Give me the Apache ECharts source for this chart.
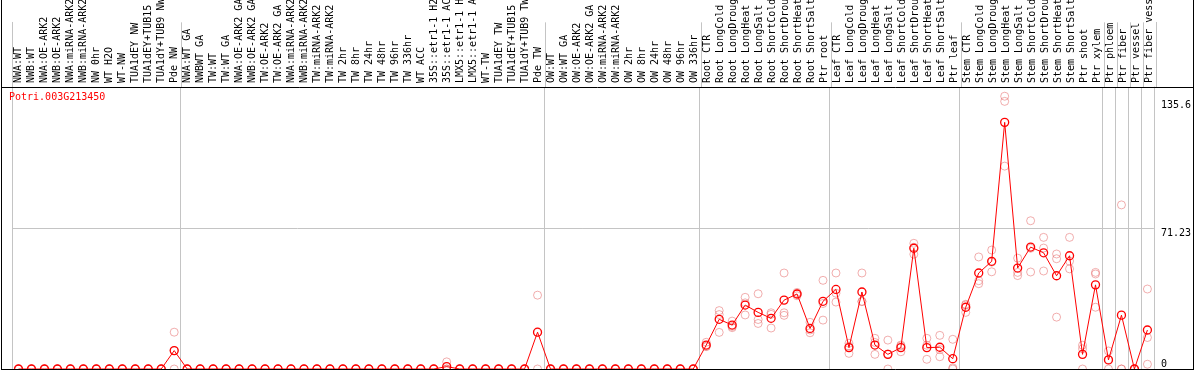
<!DOCTYPE html>
<html><head><meta charset="utf-8">
<script src="https://cdn.jsdelivr.net/npm/echarts@6/dist/echarts.min.js"></script>
<style>html,body{margin:0;padding:0;background:#fff}#c{width:1194px;height:370px}</style>
</head><body><div id="c"></div>
<script>
const chartTitle = 'Potri.003G213450';
const categories = [
 'NWA:WT','NWB:WT','NWA:OE-ARK2','NWB:OE-ARK2','NWA:miRNA-ARK2','NWB:miRNA-ARK2','NW 0hr','WT H2O','WT-NW','TUA1dEY NW','TUA1dEY+TUB15 NW','TUA1dY+TUB9 NW','Pde NW',
 'NWA:WT GA','NWBWT GA','TW:WT','TW:WT GA','NWA:OE-ARK2 GA','NWB:OE-ARK2 GA','TW:OE-ARK2','TW:OE-ARK2 GA','NWA:miRNA-ARK2 GA','NWB:miRNA-ARK2 GA','TW:miRNA-ARK2','TW:miRNA-ARK2 GA',
 'TW 2hr','TW 8hr','TW 24hr','TW 48hr','TW 96hr','TW 336hr','WT ACC','35S::etr1-1 H2O','35S::etr1-1 ACC','LMX5::etr1-1 H2O','LMX5::etr1-1 ACC',
 'WT-TW','TUA1dEY TW','TUA1dEY+TUB15 TW','TUA1dY+TUB9 TW','Pde TW',
 'OW:WT','OW:WT GA','OW:OE-ARK2','OW:OE-ARK2 GA','OW:miRNA-ARK2','OW:miRNA-ARK2 GA','OW 2hr','OW 8hr','OW 24hr','OW 48hr','OW 96hr','OW 336hr',
 'Root CTR','Root LongCold','Root LongDrought','Root LongHeat','Root LongSalt','Root ShortCold','Root ShortDrought','Root ShortHeat','Root ShortSalt','Ptr root',
 'Leaf CTR','Leaf LongCold','Leaf LongDrought','Leaf LongHeat','Leaf LongSalt','Leaf ShortCold','Leaf ShortDrought','Leaf ShortHeat','Leaf ShortSalt','Ptr leaf',
 'Stem CTR','Stem LongCold','Stem LongDrought','Stem LongHeat','Stem LongSalt','Stem ShortCold','Stem ShortDrought','Stem ShortHeat','Stem ShortSalt',
 'Ptr shoot','Ptr xylem','Ptr phloem','Ptr fiber','Ptr vessel','Ptr fiber vessel'
];
const means = [
 0,0,0,0,0,0,0,0,0,0,0,0,9.3,
 0,0,0,0,0,0,0,0,0,0,0,0,
 0,0,0,0,0,0,0,0,1.2,0,0,
 0,0,0,0,18.6,
 0,0,0,0,0,0,0,0,0,0,0,0,
 12.1,25.1,22.2,32.3,28.6,25.6,34.8,37.9,20.5,34.2,
 40.2,10.8,38.9,12.1,7.4,10.8,61.0,10.8,11.0,5.2,
 31.2,48.5,54.4,124.6,51.0,61.6,58.7,47.1,57.2,
 7.4,42.5,4.6,27.2,0,19.7
];
const rep1 = [
 0,0,0,0,0,0,0,0,0,0,0,0,18.6,
 0,0,0,0,0,0,0,0,0,0,0,0,
 0,0,0,0,0,0,0,0,3.6,0,0,
 0,0,0,0,37.3,
 0,0,0,0,0,0,0,0,0,0,0,0,
 13.5,29.5,24.2,36.2,38.0,28.4,48.5,38.7,23.6,44.8,
 48.5,13.0,48.5,15.5,14.6,12.1,63.5,15.5,17.0,15.0,
 32.7,56.6,60.1,137.8,56.0,74.9,66.5,58.1,66.5,
 12.0,48.8,9.1,82.9,0,40.4
];
const rep2 = [
 0,0,0,0,0,0,0,0,0,0,0,0,0,
 0,0,0,0,0,0,0,0,0,0,0,0,
 0,0,0,0,0,0,0,0,0,0,0,
 0,0,0,0,0,
 0,0,0,0,0,0,0,0,0,0,0,0,
 11.5,27.5,20.9,27.3,25.0,27.6,28.4,37.0,19.7,24.7,
 33.8,7.9,34.2,7.4,0,8.7,61.5,4.9,6.2,0,
 28.6,44.6,49.1,135.2,48.8,49.0,61.1,55.7,50.6,
 0,48.0,0,0,0,15.9
];
const rep3 = [
 0,0,0,0,0,0,0,0,0,0,0,0,9.3,
 0,0,0,0,0,0,0,0,0,0,0,0,
 0,0,0,0,0,0,0,0,0,0,0,
 0,0,0,0,18.5,
 0,0,0,0,0,0,0,0,0,0,0,0,
 11.3,18.5,21.5,33.4,23.0,20.7,27.1,38.0,18.3,33.1,
 38.3,11.5,34.0,13.4,7.6,11.6,58.0,12.0,9.8,0.6,
 32.3,43.1,54.0,102.5,47.2,61.0,49.5,26.2,54.5,
 10.2,31.2,4.7,0,0,2.4
];
const groupStarts = [0,13,41,53,63,73,84,85,86,87];
const yLabelsUpper = [71.23, 135.6];
const yLabelsLower = [0];
const midLineValue = 71.23;
const yMax = 142.46;

const mono = 'DejaVu Sans Mono';
const sepColor = '#c4c4c4';
const chart = echarts.init(document.getElementById('c'), null, {renderer:'canvas'});
const splitLine = {show:true, showMinLine:true, showMaxLine:true, interval:(i)=>groupStarts.includes(i), lineStyle:{color:sepColor, width:1}};
const repStyle = {color:'rgba(0,0,0,0)', borderColor:'rgba(230,110,110,0.7)', borderWidth:1};
function repSeries(d){
  return {type:'scatter', xAxisIndex:1, yAxisIndex:1, data:d, symbol:'circle', symbolSize:8,
    itemStyle:repStyle, silent:true, z:2};
}
function edgeAxis(grid, pos){
  return {type:'value', gridIndex:grid, min:0, max:1, position:pos, axisLine:{show:true, lineStyle:{color:sepColor}},
     axisTick:{show:false}, axisLabel:{show:false}, splitLine:{show:false}};
}
chart.setOption({
  animation:false,
  backgroundColor:'#fff',
  title:{text:chartTitle, left:9, top:92, padding:0,
    textStyle:{color:'#ff0000', fontSize:10, fontFamily:mono, fontWeight:'normal'}},
  grid:[
    {left:12, right:38, top:0, height:87},
    {left:12, right:38, top:87, bottom:1}
  ],
  xAxis:[
    {type:'category', gridIndex:0, data:categories, position:'bottom', boundaryGap:true,
     axisLine:{show:false}, axisTick:{show:false}, splitLine:splitLine,
     axisLabel:{show:true, interval:0, rotate:90, inside:true, margin:4, color:'#000', fontSize:10, fontFamily:mono, hideOverlap:false}},
    {type:'category', gridIndex:1, data:categories, boundaryGap:true,
     axisLine:{show:false}, axisTick:{show:false}, axisLabel:{show:false}, splitLine:splitLine}
  ],
  yAxis:[
    edgeAxis(0,'right'),
    {type:'value', gridIndex:1, min:0, max:yMax, position:'right', axisLine:{show:true, lineStyle:{color:sepColor}},
     axisTick:{show:false}, splitLine:{show:false},
     axisLabel:{show:true, customValues:yLabelsUpper, verticalAlign:'top', margin:7, color:'#000', fontSize:10, fontFamily:mono, formatter:(v)=>String(v)}},
    {type:'value', gridIndex:1, min:0, max:yMax, position:'right', axisLine:{show:false},
     axisTick:{show:false}, splitLine:{show:false},
     axisLabel:{show:true, customValues:yLabelsLower, verticalAlign:'bottom', margin:7, color:'#000', fontSize:10, fontFamily:mono, formatter:(v)=>String(v)}},
    edgeAxis(0,'left'),
    edgeAxis(1,'left')
  ],
  series:[
    repSeries(rep1), repSeries(rep2), repSeries(rep3),
    {type:'line', xAxisIndex:1, yAxisIndex:1, data:means, symbol:'circle', symbolSize:8, showAllSymbol:true,
     lineStyle:{color:'#ff0000', width:1}, itemStyle:{color:'rgba(0,0,0,0)', borderColor:'#ff0000', borderWidth:1.3}, z:3,
     markLine:{silent:true, symbol:'none', label:{show:false}, lineStyle:{color:sepColor, width:1, type:'solid'},
       data:[{yAxis:midLineValue}], z:1}}
  ],
  graphic:[
    {type:'line', shape:{x1:1.5,y1:0,x2:1.5,y2:370}, style:{stroke:'#000', lineWidth:1}, z:10},
    {type:'line', shape:{x1:1193.5,y1:0,x2:1193.5,y2:370}, style:{stroke:'#000', lineWidth:1}, z:10},
    {type:'line', shape:{x1:1,y1:87.5,x2:1194,y2:87.5}, style:{stroke:'#000', lineWidth:1}, z:10},
    {type:'line', shape:{x1:1,y1:369.5,x2:1194,y2:369.5}, style:{stroke:'#000', lineWidth:1}, z:10}
  ]
});
</script></body></html>
